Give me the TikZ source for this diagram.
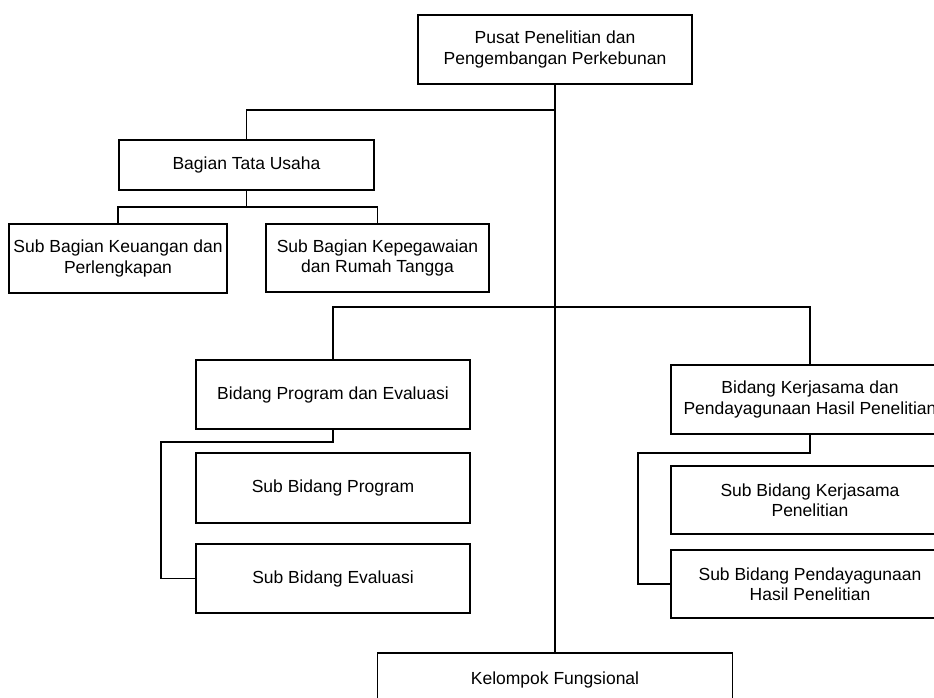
\documentclass[tikz,border=0pt]{standalone}
\usepackage{fontspec}
\setmainfont{Liberation Sans}
\begin{document}
\begin{tikzpicture}[x=1pt, y=-1pt,
    unit/.style={draw, line width=1.3pt, align=center, inner sep=0pt,
        font=\fontsize{17.5}{20.5}\selectfont},
    link/.style={line width=1.2pt},
    trunk/.style={line width=2.4pt}]
 \useasboundingbox (0,0) rectangle (934,698);
 \clip (0,0) rectangle (934,698);
 \node[unit, minimum width=274pt, minimum height=69pt] (pusat) at (555,49.5) {Pusat Penelitian dan\\Pengembangan Perkebunan};
 \node[unit, minimum width=255pt, minimum height=50pt] (tu) at (246.5,165) {Bagian Tata Usaha};
 \node[unit, minimum width=218pt, minimum height=69pt] (keu) at (118,258.5) {Sub Bagian Keuangan dan\\Perlengkapan};
 \node[unit, minimum width=223pt, minimum height=68pt] (kep) at (377.5,258) {Sub Bagian Kepegawaian\\dan Rumah Tangga};
 \node[unit, minimum width=274pt, minimum height=69pt] (bpe) at (333,394.5) {Bidang Program dan Evaluasi};
 \node[unit, minimum width=274pt, minimum height=70pt] (sbp) at (333,488) {Sub Bidang Program};
 \node[unit, minimum width=274pt, minimum height=69pt] (sbe) at (333,578.5) {Sub Bidang Evaluasi};
 \node[unit, minimum width=278pt, minimum height=69pt] (bkp) at (810,399.5) {Bidang Kerjasama dan\\Pendayagunaan Hasil Penelitian};
 \node[unit, minimum width=278pt, minimum height=68pt] (sbk) at (810,500) {Sub Bidang Kerjasama\\Penelitian};
 \node[unit, minimum width=278pt, minimum height=68pt] (sbpd) at (810,584) {Sub Bidang Pendayagunaan\\Hasil Penelitian};
 \node[unit, minimum width=355pt, minimum height=54pt] (kf) at (555,680) {Kelompok Fungsional};

 \coordinate (j1) at (555,110);
 \coordinate (j2) at (246.5,207);
 \coordinate (j3) at (555,307);
 \coordinate (l1) at (161,442);
 \coordinate (r1) at (638,453);

 \draw[trunk](pusat.south)--(kf.north);
 \draw[link](tu.north)|-(j1);
 \draw[link](tu.south)--(j2);
 \draw[link](keu.north)|-(j2)-|(kep.north);
 \draw[link](bpe.north)|-(j3)-|(bkp.north);
 \draw[link](bpe.south)|-(l1)|-(sbe.west);
 \draw[link](bkp.south)|-(r1)|-(sbpd.west);
\end{tikzpicture}
\end{document}
